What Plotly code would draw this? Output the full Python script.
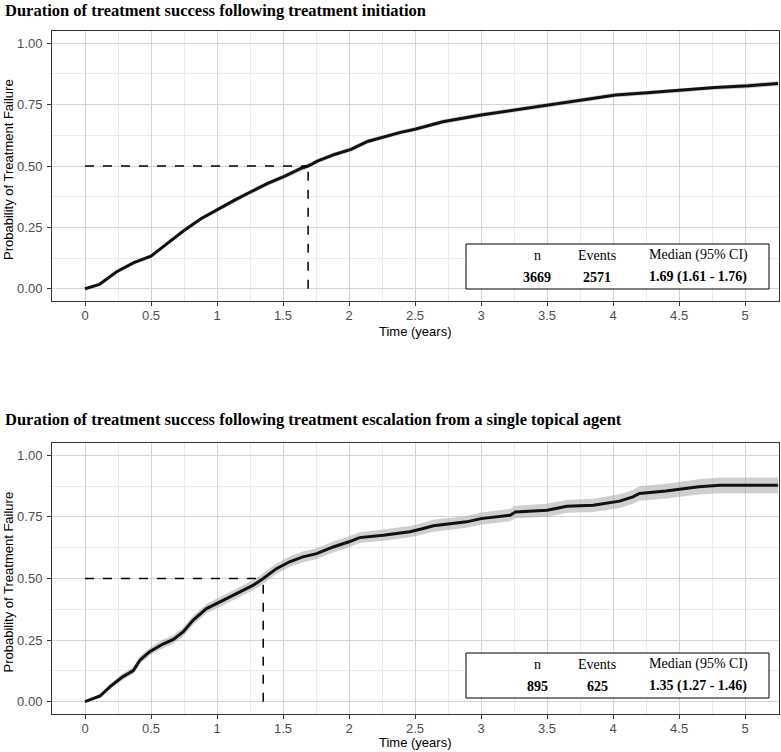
import plotly.graph_objects as go

W, H = 781, 752

# ---------------- data ----------------
titles = [
    "Duration of treatment success following treatment initiation",
    "Duration of treatment success following treatment escalation from a single topical agent",
]

t_init = [0, 0.11, 0.24, 0.37, 0.5, 0.62, 0.75, 0.875, 1.0, 1.13,
          1.25, 1.38, 1.51, 1.635, 1.69, 1.76, 1.89, 2.015, 2.14, 2.27,
          2.39, 2.5, 2.71, 3.0, 3.25, 3.52, 3.76, 4.02, 4.26, 4.52,
          4.77, 5.03, 5.25]
p_init = [0, 0.018, 0.069, 0.106, 0.133, 0.183, 0.237, 0.284, 0.322, 0.36,
          0.393, 0.428, 0.458, 0.49, 0.5, 0.52, 0.547, 0.568, 0.6, 0.62,
          0.637, 0.65, 0.68, 0.708, 0.728, 0.748, 0.768, 0.789, 0.798, 0.809,
          0.82, 0.827, 0.836]
ci_init = [0, 0.004, 0.006, 0.007, 0.007, 0.008, 0.008, 0.008, 0.009, 0.009,
           0.009, 0.009, 0.009, 0.009, 0.009, 0.009, 0.009, 0.009, 0.009, 0.009,
           0.009, 0.009, 0.009, 0.009, 0.009, 0.009, 0.009, 0.009, 0.009, 0.009,
           0.009, 0.01, 0.01]

t_esc = [0, 0.114, 0.19, 0.28, 0.366, 0.417, 0.49, 0.59, 0.67, 0.745,
         0.82, 0.92, 1.0, 1.10, 1.20, 1.275, 1.35, 1.45, 1.55, 1.65,
         1.755, 1.88, 2.0, 2.08, 2.26, 2.46, 2.54, 2.64, 2.89, 3.0,
         3.22, 3.26, 3.5, 3.65, 3.85, 4.05, 4.15, 4.2, 4.4, 4.55,
         4.65, 4.81, 5.25]
p_esc = [0, 0.023, 0.061, 0.099, 0.126, 0.169, 0.203, 0.234, 0.253, 0.284,
         0.331, 0.378, 0.399, 0.426, 0.453, 0.473, 0.5, 0.54, 0.568, 0.588,
         0.601, 0.628, 0.649, 0.666, 0.676, 0.69, 0.70, 0.714, 0.73, 0.743,
         0.757, 0.77, 0.777, 0.793, 0.797, 0.814, 0.831, 0.845, 0.855, 0.865,
         0.872, 0.878, 0.878]
ci_esc = [0, 0.008, 0.011, 0.013, 0.014, 0.015, 0.016, 0.017, 0.018, 0.018,
          0.019, 0.019, 0.02, 0.02, 0.02, 0.021, 0.021, 0.021, 0.021, 0.022,
          0.022, 0.022, 0.022, 0.022, 0.023, 0.023, 0.023, 0.024, 0.024, 0.025,
          0.025, 0.025, 0.026, 0.026, 0.027, 0.028, 0.028, 0.029, 0.03, 0.03,
          0.031, 0.032, 0.032]

medians = [1.69, 1.35]
median_level = 0.5
table_headers = ["n", "Events", "Median (95% CI)"]
table_values = [
    ["3669", "2571", "1.69 (1.61 - 1.76)"],
    ["895", "625", "1.35 (1.27 - 1.46)"],
]

series = [(t_init, p_init, ci_init), (t_esc, p_esc, ci_esc)]

# ---------------- layout helpers (pixels -> paper) ----------------
def px(x):
    return x / W

def py(y):
    return 1 - y / H

panels = [  # (top, bottom) in pixels
    (31, 301),
    (443, 714),
]
title_ys = [10, 419]
xtitle_ys = [331, 742]
x_left, x_right = 52, 779

fig = go.Figure()

serif = "Liberation Serif, Times New Roman, serif"
sans = "Liberation Sans, Arial, sans-serif"

annotations = []
shapes = []

for i, ((t, p, ci), (ptop, pbot)) in enumerate(zip(series, panels)):
    xa = "x" if i == 0 else "x2"
    ya = "y" if i == 0 else "y2"
    lo = [max(a - b, 0) for a, b in zip(p, ci)]
    hi = [a + b for a, b in zip(p, ci)]
    fig.add_trace(go.Scatter(x=t, y=lo, mode="lines", line=dict(width=0),
                             hoverinfo="skip", showlegend=False, xaxis=xa, yaxis=ya))
    fig.add_trace(go.Scatter(x=t, y=hi, mode="lines", line=dict(width=0),
                             fill="tonexty", fillcolor="rgba(160,160,160,0.5)",
                             hoverinfo="skip", showlegend=False, xaxis=xa, yaxis=ya))
    fig.add_trace(go.Scatter(x=t, y=p, mode="lines",
                             line=dict(color="#111111", width=3),
                             showlegend=False, xaxis=xa, yaxis=ya))
    m = medians[i]
    fig.add_trace(go.Scatter(x=[0, m], y=[median_level, median_level], mode="lines",
                             line=dict(color="black", width=1.5, dash="dash"),
                             showlegend=False, xaxis=xa, yaxis=ya))
    fig.add_trace(go.Scatter(x=[m, m], y=[0, median_level], mode="lines",
                             line=dict(color="black", width=1.5, dash="dash"),
                             showlegend=False, xaxis=xa, yaxis=ya))

    axis_common = dict(showline=True, mirror=True, linecolor="#333333", linewidth=1,
                       ticks="outside", ticklen=4, tickcolor="#333333", tickwidth=1,
                       zeroline=False, showgrid=True, gridcolor="#d4d4d4", gridwidth=1,
                       tickfont=dict(family=sans, size=13, color="#4d4d4d"))
    xkey = "xaxis" if i == 0 else "xaxis2"
    ykey = "yaxis" if i == 0 else "yaxis2"
    fig.update_layout(**{
        xkey: dict(domain=[px(x_left), px(x_right)], range=[-0.25, 5.257],
                   tick0=0, dtick=0.5, anchor=ya, ticklabelstandoff=-2,
                   minor=dict(dtick=0.25, showgrid=True, gridcolor="#ebebeb", gridwidth=1),
                   **axis_common),
        ykey: dict(domain=[py(pbot), py(ptop)], range=[-0.05, 1.05],
                   tick0=0, dtick=0.25, tickformat=".2f", anchor=xa, ticklabelstandoff=2,
                   minor=dict(dtick=0.125, showgrid=True, gridcolor="#ebebeb", gridwidth=1),
                   **axis_common),
    })

    # titles
    annotations.append(dict(text="<b>" + titles[i] + "</b>", x=px(3), y=py(title_ys[i]),
                            xref="paper", yref="paper", xanchor="left", yanchor="middle",
                            showarrow=False, font=dict(family=serif, size=16.5, color="black")))
    # axis titles
    annotations.append(dict(text="Time (years)", x=px(415), y=py(xtitle_ys[i]),
                            xref="paper", yref="paper", xanchor="center", yanchor="middle",
                            showarrow=False, font=dict(family=sans, size=13, color="black")))
    annotations.append(dict(text="Probability of Treatment Failure", x=px(8),
                            y=py((ptop + pbot) / 2 + 4), textangle=-90,
                            xref="paper", yref="paper", xanchor="center", yanchor="middle",
                            showarrow=False, font=dict(family=sans, size=13, color="black")))

    # inset table
    box_top = 244 if i == 0 else 653
    box_bot = 289 if i == 0 else 698
    shapes.append(dict(type="rect", xref="paper", yref="paper",
                       x0=px(466), x1=px(769), y0=py(box_bot), y1=py(box_top),
                       line=dict(color="black", width=1), fillcolor="white", layer="above"))
    col_x = [537, 597, 698]
    for cx, head, val in zip(col_x, table_headers, table_values[i]):
        annotations.append(dict(text=head, x=px(cx), y=py(box_top + 11),
                                xref="paper", yref="paper", xanchor="center", yanchor="middle",
                                showarrow=False, font=dict(family=serif, size=14, color="black")))
        annotations.append(dict(text="<b>" + val + "</b>", x=px(cx), y=py(box_top + 33),
                                xref="paper", yref="paper", xanchor="center", yanchor="middle",
                                showarrow=False, font=dict(family=serif, size=14, color="black")))

fig.update_layout(width=W, height=H, margin=dict(l=0, r=0, t=0, b=0),
                  paper_bgcolor="white", plot_bgcolor="white",
                  annotations=annotations, shapes=shapes, showlegend=False)

fig.write_html("out.html", config={"displayModeBar": False},
               post_script="document.body.style.margin='0';document.body.style.overflow='hidden';")
